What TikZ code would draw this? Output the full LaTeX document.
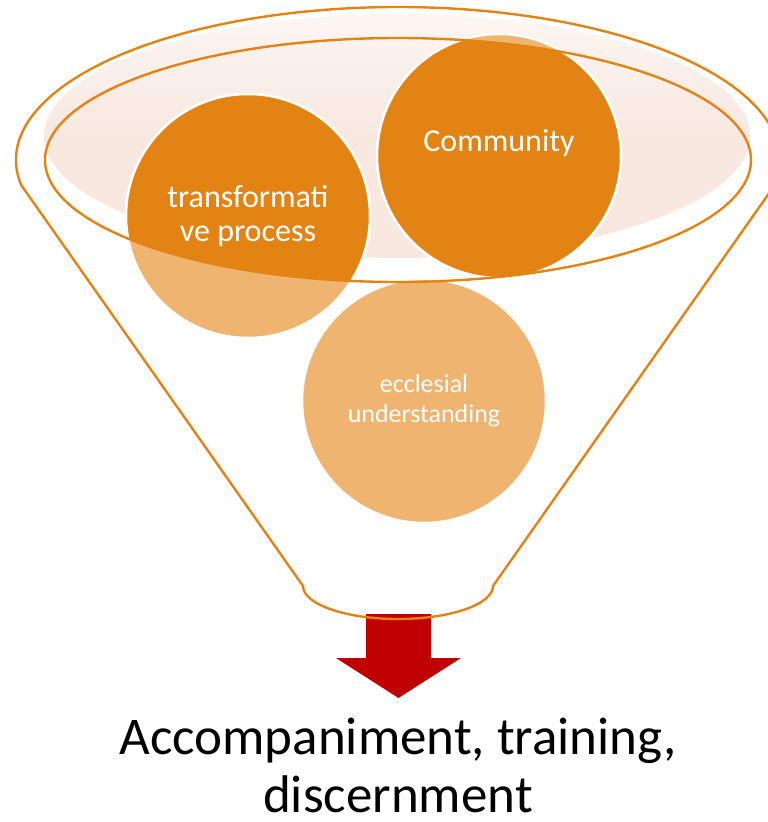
\documentclass[tikz,border=0pt]{standalone}
\usepackage{fontspec}
\setmainfont{Carlito}
\definecolor{funnelorange}{RGB}{227,131,20}
\definecolor{softorange}{RGB}{239,180,112}
\definecolor{paleorange}{RGB}{248,232,224}
\definecolor{arrowred}{RGB}{192,0,0}
\begin{document}
\begin{tikzpicture}[x=1pt,y=-1pt,
  rim/.style={draw=funnelorange,line width=2.4pt},
  bubble/.style={circle,minimum size=244pt,fill=softorange,draw=white,line width=2.5pt},
  bubble text/.style={text=white,align=center}]
  \useasboundingbox (0,0) rectangle (768,822);
  \shade[top color=paleorange!40,bottom color=paleorange,middle color=paleorange] (397,136) ellipse [x radius=353, y radius=122];
  \fill[arrowred] (366,614) -- (431,614) -- (431,658) -- (461,658) -- (398.5,698) -- (336,658) -- (366,658) -- cycle;
  \node[bubble] (transform) at (248,216) {};
  \node[bubble] (community) at (499,156) {};
  \node[bubble] (ecclesial) at (424,401) {};
  \begin{scope}
    \clip (398,160) ellipse [x radius=353, y radius=122];
    \filldraw[fill=funnelorange,draw=white,line width=2.5pt] (transform.center) circle [radius=122];
    \filldraw[fill=funnelorange,draw=white,line width=2.5pt] (community.center) circle [radius=122];
  \end{scope}
  \draw[rim] (398,160) ellipse [x radius=353, y radius=122];
  \draw[rim] (398,160) ++(170.6:382 and 153) arc [start angle=170.6, end angle=369.4, x radius=382, y radius=153]
    -- (493,586) arc [start angle=0, end angle=180, x radius=95, y radius=33] -- cycle;
  \node[bubble text,font=\fontsize{32}{34.5}\selectfont] (transform text) at (transform) {transformati\\ve process};
  \node[bubble text,font=\fontsize{32}{34.5}\selectfont] (community text) at (499,143) {Community};
  \node[bubble text,font=\fontsize{26}{30}\selectfont] (ecclesial text) at (ecclesial) {ecclesial\\understanding};
  \node[align=center,inner sep=0pt,font=\fontsize{53}{58}\selectfont] (outcome) at (398,765) {Accompaniment, training,\\discernment};
\end{tikzpicture}
\end{document}
